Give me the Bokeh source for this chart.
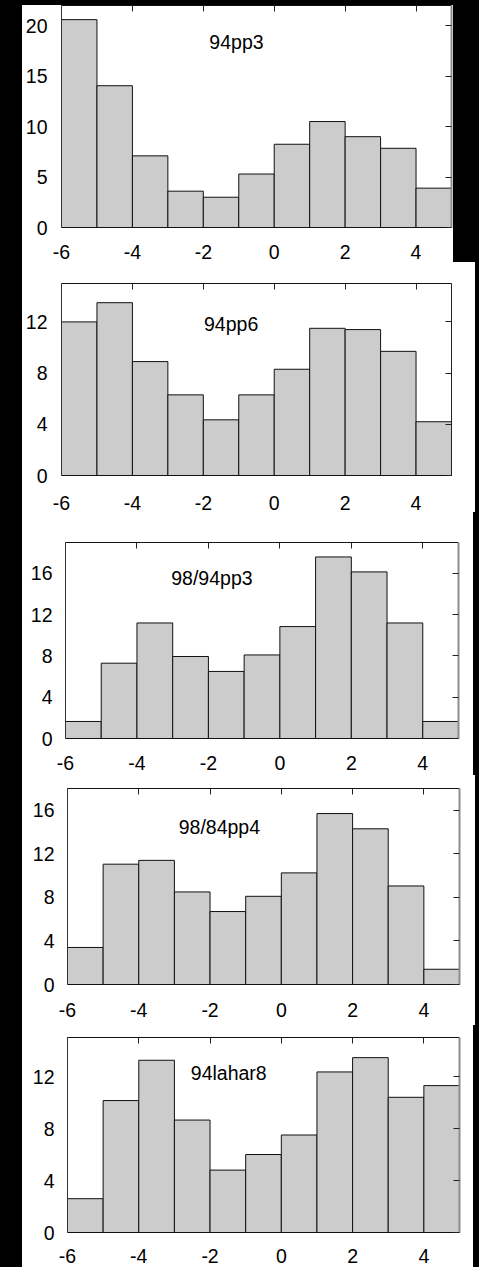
from bokeh.plotting import figure
from bokeh.models import Range1d, FixedTicker, LinearAxis, Label, Spacer, CustomLabelingPolicy
from bokeh.layouts import column, row
from bokeh.embed import file_html
from bokeh.resources import INLINE

# ---------------- data ----------------
bin_edges = [-6, -5, -4, -3, -2, -1, 0, 1, 2, 3, 4, 5]
x_ticks = [-6, -4, -2, 0, 2, 4]
x_tick_labels = {-6: "-6", -4: "-4", -2: "-2", 0: "0", 2: "2", 4: "4"}

names = ["94pp3", "94pp6", "98/94pp3", "98/84pp4", "94lahar8"]

counts_94pp3 = [20.6, 14.05, 7.1, 3.6, 3.0, 5.3, 8.25, 10.5, 9.0, 7.85, 3.9]
counts_94pp6 = [12.0, 13.5, 8.9, 6.3, 4.35, 6.3, 8.3, 11.5, 11.4, 9.7, 4.2]
counts_98_94pp3 = [1.65, 7.3, 11.2, 7.95, 6.5, 8.1, 10.85, 17.6, 16.15, 11.2, 1.65]
counts_98_84pp4 = [3.4, 11.05, 11.4, 8.5, 6.7, 8.1, 10.25, 15.7, 14.3, 9.05, 1.4]
counts_94lahar8 = [2.6, 10.15, 13.25, 8.65, 4.8, 6.0, 7.5, 12.35, 13.45, 10.4, 11.3]

y_ticks_94pp3 = [0, 5, 10, 15, 20]
y_ticks_94pp6 = [0, 4, 8, 12]
y_ticks_98_94pp3 = [0, 4, 8, 12, 16]
y_ticks_98_84pp4 = [0, 4, 8, 12, 16]
y_ticks_94lahar8 = [0, 4, 8, 12]

y_max = [22, 15, 19, 18, 15]

series = [counts_94pp3, counts_94pp6, counts_98_94pp3, counts_98_84pp4, counts_94lahar8]
yticks = [y_ticks_94pp3, y_ticks_94pp6, y_ticks_98_94pp3, y_ticks_98_84pp4, y_ticks_94lahar8]

# ---------------- layout / style ----------------
FONT = "Liberation Sans"
FS = "19.5px"
BLACK_LEFT = 22
PAGE_W = 479
# w/h: figure size; l,r,t,b: borders; xs/ys: label standoffs; tx/ty: title anchor; rc/rw: right frame line
layout_cfg = [
    dict(w=431, h=257, l=37, r=2, t=0, b=35, xs=17, ys=14, tx=-1.83, ty=18.34, rc="#8c8c8c", rw=2),
    dict(w=453, h=250, l=37, r=24, t=21, b=34, xs=20, ys=14, tx=-1.98, ty=11.8, rc="#222222", rw=1),
    dict(w=451, h=263, l=43, r=15, t=30, b=37, xs=17, ys=13, tx=-3.04, ty=15.56, rc="#8c8c8c", rw=2),
    dict(w=453, h=250, l=45, r=16, t=13, b=41, xs=18, ys=13, tx=-2.88, ty=14.46, rc="#8c8c8c", rw=2),
    dict(w=451, h=242, l=45, r=14, t=12, b=35, xs=16, ys=13, tx=-2.54, ty=12.3, rc="#8c8c8c", rw=2),
]

no_labels = CustomLabelingPolicy(
    code="const all = Array.from(indices); for (const i of all) indices.unset(i); return indices;")


def make_panel(i):
    c = layout_cfg[i]
    p = figure(width=c["w"], height=c["h"], x_range=Range1d(-6, 5), y_range=Range1d(0, y_max[i]),
               output_backend="svg", toolbar_location=None,
               min_border_left=c["l"], min_border_right=c["r"],
               min_border_top=c["t"], min_border_bottom=c["b"])
    p.grid.visible = False
    p.outline_line_color = None
    p.background_fill_color = "white"
    p.border_fill_color = "white"

    p.quad(left=bin_edges[:-1], right=bin_edges[1:], bottom=0, top=series[i],
           fill_color="#cccccc", line_color="#111111", line_width=1)

    for ax in p.xaxis:
        ax.ticker = FixedTicker(ticks=x_ticks)
        ax.major_label_overrides = x_tick_labels
        ax.major_tick_in = 0
        ax.major_tick_out = 0
        ax.minor_tick_line_color = None
        ax.axis_line_color = "#111111"
        ax.major_label_standoff = c["xs"]
        ax.major_label_text_font = FONT
        ax.major_label_text_font_size = FS
        ax.major_label_text_color = "#000000"
    for ax in p.yaxis:
        ax.ticker = FixedTicker(ticks=yticks[i])
        ax.major_tick_in = 0
        ax.major_tick_out = 0
        ax.minor_tick_line_color = None
        ax.axis_line_color = "#333333"
        ax.major_label_standoff = c["ys"]
        ax.major_label_text_font = FONT
        ax.major_label_text_font_size = FS
        ax.major_label_text_color = "#000000"

    top = LinearAxis(ticker=FixedTicker(ticks=x_ticks), major_tick_in=6, major_tick_out=0,
                     minor_tick_line_color=None, major_label_text_font_size="0px",
                     major_label_policy=no_labels,
                     major_label_standoff=0, axis_line_color="#111111",
                     major_tick_line_color="#222222")
    p.add_layout(top, "above")
    right = LinearAxis(ticker=FixedTicker(ticks=yticks[i]), major_tick_in=6, major_tick_out=0,
                       minor_tick_line_color=None, major_label_text_font_size="0px",
                       major_label_policy=no_labels,
                       major_label_standoff=0, axis_line_color=c["rc"], axis_line_width=c["rw"],
                       major_tick_line_color="#222222")
    p.add_layout(right, "right")

    p.add_layout(Label(x=c["tx"], y=c["ty"], text=names[i], text_font=FONT, text_font_size=FS,
                       text_color="#000000", text_align="left", text_baseline="middle"))
    if i == 4:
        p.add_layout(Label(x=5.29, y=14.7, text=".", text_font=FONT, text_font_size="12px",
                           text_color="#000000", text_align="center", text_baseline="middle"))
    return p


def black(w, h):
    return Spacer(width=w, height=h, styles={"background-color": "#000000"})


rows = [black(PAGE_W, 5)]
for i in range(5):
    c = layout_cfg[i]
    p = make_panel(i)
    rest = PAGE_W - BLACK_LEFT - c["w"]
    rows.append(row(black(BLACK_LEFT, c["h"]), p, black(rest, c["h"]), spacing=0))

lay = column(*rows, spacing=0)

open("out.html", "w").write(file_html(lay, INLINE))
